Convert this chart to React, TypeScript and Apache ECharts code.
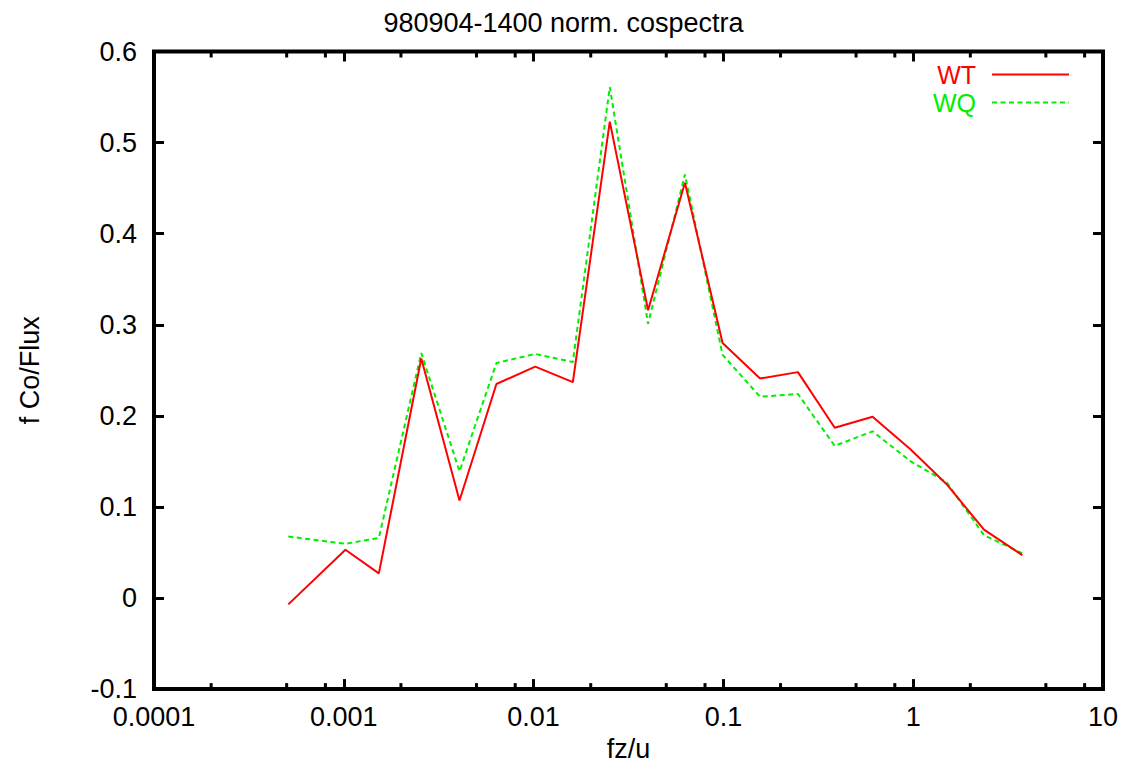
import React, { useEffect, useRef } from "react";
import * as echarts from "echarts";

const titleText = "980904-1400 norm. cospectra";
const xName = "fz/u";
const yName = "f Co/Flux";
const seriesNames = ["WT", "WQ"];
const freq = [
  5.1e-4, 1.02e-3, 1.53e-3, 2.56e-3, 4.07e-3, 6.37e-3, 0.0102, 0.0161, 0.0252, 0.0401,
  0.0627, 0.099, 0.156, 0.247, 0.386, 0.611, 0.97, 1.5, 2.36, 3.76,
];
const wt = [
  -0.007, 0.053, 0.027, 0.263, 0.107, 0.235, 0.254, 0.237, 0.523, 0.316,
  0.456, 0.28, 0.241, 0.248, 0.187, 0.199, 0.163, 0.125, 0.075, 0.047,
];
const wq = [
  0.0675, 0.0595, 0.066, 0.269, 0.139, 0.258, 0.268, 0.259, 0.561, 0.301,
  0.465, 0.267, 0.221, 0.224, 0.167, 0.183, 0.15, 0.127, 0.069, 0.049,
];
const xMin = 0.0001;
const xMax = 10;
const yMin = -0.1;
const yMax = 0.6;
const yStep = 0.1;
const xTickLabels: Record<string, string> = {
  "0.0001": "0.0001",
  "0.001": "0.001",
  "0.01": "0.01",
  "0.1": "0.1",
  "1": "1",
  "10": "10",
};
const minorTicks = [
  2e-4, 5e-4, 8e-4, 2e-3, 5e-3, 8e-3, 0.02, 0.05, 0.08, 0.2, 0.5, 0.8, 2, 5, 8,
];

const FONT = "Liberation Sans";
const FS = 27;
const RED = "#ff0000";
const GREEN = "#00ee00";

function xLabel(v: number): string {
  const key = String(Number(v.toPrecision(6)));
  return xTickLabels[key] ?? key;
}

export default function App() {
  const ref = useRef<HTMLDivElement>(null);
  useEffect(() => {
    if (!ref.current) return;
    const chart = echarts.init(ref.current, undefined, { renderer: "svg" });
    const tickStyle = { color: "#000", width: 3 };
    const option: any = {
      animation: false,
      backgroundColor: "#fff",
      textStyle: { fontFamily: FONT },
      title: {
        text: titleText,
        left: "center",
        top: 4,
        textStyle: { fontFamily: FONT, fontSize: FS, fontWeight: "normal", color: "#000" },
      },
      legend: {
        orient: "vertical",
        align: "right",
        right: 52,
        top: 57,
        itemWidth: 77,
        itemHeight: 14,
        itemGap: 3,
        itemStyle: { opacity: 0 },
        data: [
          { name: seriesNames[0], textStyle: { color: RED } },
          { name: seriesNames[1], textStyle: { color: GREEN } },
        ],
        textStyle: { fontFamily: FONT, fontSize: 25, lineHeight: 24, padding: [0, 11, 0, 0] },
      },
      grid: {
        left: 154,
        top: 51.5,
        width: 949,
        height: 639,
        show: true,
        borderColor: "#000",
        borderWidth: 4,
        backgroundColor: "transparent",
      },
      xAxis: [
        {
          type: "log",
          logBase: 10,
          min: xMin,
          max: xMax,
          position: "bottom",
          name: xName,
          nameLocation: "middle",
          nameGap: 40,
          nameTextStyle: { fontFamily: FONT, fontSize: FS, color: "#000" },
          axisLine: { show: false, onZero: false },
          axisTick: { inside: true, length: 10, lineStyle: tickStyle },
          axisLabel: {
            margin: 14,
            fontFamily: FONT,
            fontSize: FS,
            color: "#000",
            formatter: (v: number) => xLabel(v),
          },
          splitLine: { show: false },
        },
        {
          type: "log",
          logBase: 10,
          min: xMin,
          max: xMax,
          position: "top",
          axisLine: { show: false, onZero: false },
          axisTick: { inside: true, length: 10, lineStyle: tickStyle },
          axisLabel: { show: false },
          splitLine: { show: false },
        },
      ],
      yAxis: [
        {
          type: "value",
          min: yMin,
          max: yMax,
          interval: yStep,
          position: "left",
          name: yName,
          nameLocation: "middle",
          nameGap: 111,
          nameRotate: 90,
          nameTextStyle: { fontFamily: FONT, fontSize: FS, color: "#000" },
          axisLine: { show: false },
          axisTick: { inside: true, length: 10, lineStyle: tickStyle },
          axisLabel: {
            margin: 17,
            fontFamily: FONT,
            fontSize: FS,
            color: "#000",
            formatter: (v: number) => String(Number(v.toFixed(1))),
          },
          splitLine: { show: false },
        },
        {
          type: "value",
          min: yMin,
          max: yMax,
          interval: yStep,
          position: "right",
          axisLine: { show: false },
          axisTick: { inside: true, length: 10, lineStyle: tickStyle },
          axisLabel: { show: false },
          splitLine: { show: false },
        },
      ],
      series: [
        {
          name: seriesNames[0],
          type: "line",
          xAxisIndex: 0,
          yAxisIndex: 0,
          data: freq.map((f, i) => [f, wt[i]]),
          symbol: "none",
          lineStyle: { color: RED, width: 2 },
          itemStyle: { color: RED },
          z: 3,
        },
        {
          name: seriesNames[1],
          type: "line",
          xAxisIndex: 0,
          yAxisIndex: 0,
          data: freq.map((f, i) => [f, wq[i]]),
          symbol: "none",
          lineStyle: { color: GREEN, width: 2, type: [5, 3.5] },
          itemStyle: { color: GREEN },
          z: 2,
        },
        {
          type: "custom",
          xAxisIndex: 0,
          yAxisIndex: 0,
          silent: true,
          clip: false,
          data: minorTicks.map((v) => [v]),
          encode: { x: 0 },
          renderItem: (_params: any, api: any) => {
            const v = api.value(0);
            const b = api.coord([v, yMin]);
            const t = api.coord([v, yMax]);
            const st = { stroke: "#000", lineWidth: 3 };
            return {
              type: "group",
              children: [
                { type: "line", shape: { x1: b[0], y1: b[1], x2: b[0], y2: b[1] - 6 }, style: st },
                { type: "line", shape: { x1: t[0], y1: t[1], x2: t[0], y2: t[1] + 6 }, style: st },
              ],
            };
          },
        },
      ],
    };
    chart.setOption(option);
    return () => chart.dispose();
  }, []);
  return (
    <div
      ref={ref}
      style={{ position: "fixed", left: 0, top: 0, width: 1127, height: 767, background: "#fff" }}
    />
  );
}
